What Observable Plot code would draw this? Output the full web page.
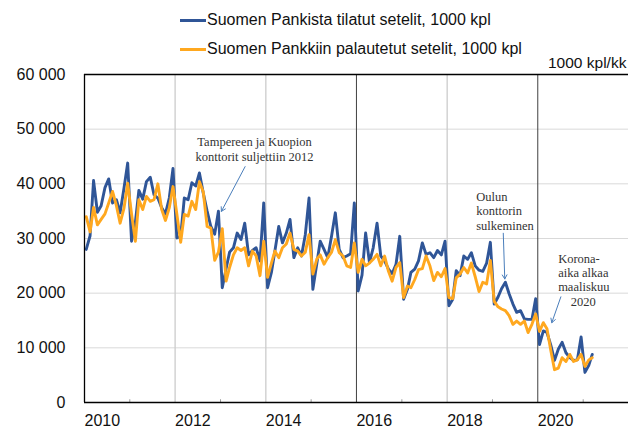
<!DOCTYPE html>
<html><head><meta charset="utf-8">
<script src="https://cdn.jsdelivr.net/npm/d3@7"></script>
<script src="https://cdn.jsdelivr.net/npm/@observablehq/plot@0.6"></script>
<style>
body{margin:0;background:#fff;}
#wrap{position:relative;width:628px;height:431px;overflow:hidden;font-family:"Liberation Sans",Arial,sans-serif;}
#legend{height:56px;position:relative;}
.item{position:absolute;left:180px;display:flex;align-items:center;font-size:16px;color:#111;white-space:nowrap;transform:translateY(-50%);}
.sw{width:26px;height:3px;margin-right:1px;}
#unit{position:absolute;left:548px;top:54px;font-size:15.5px;color:#111;white-space:nowrap;}
#err{position:absolute;left:90px;top:100px;color:red;font-size:11px;}
</style></head>
<body><div id="wrap"><div id="legend"></div><div id="unit"></div><div id="chart"></div><div id="err"></div></div>
<script>
const seriesNames = ["Suomen Pankista tilatut setelit, 1000 kpl", "Suomen Pankkiin palautetut setelit, 1000 kpl"];
const seriesColors = ["#2f5597", "#ffa81f"];
const unitLabel = "1000 kpl/kk";
const startYear = 2010;
// monthly values, Jan 2010 - Mar 2021
const tilatut = [
  28000, 30500, 40600, 34800, 36000, 39300, 40900, 36500, 37100, 34700, 39200, 43800,
  29500, 33000, 38800, 37200, 40400, 41200, 38000, 37400, 35600, 34500, 37400, 42800,
  30100, 30400, 37400, 37100, 40200, 39600, 42000, 38300, 35000, 32200, 30800, 35000,
  21000, 24500, 27500, 28300, 31000, 29800, 32800, 27000, 27800, 28300, 25900, 36500,
  21000, 23800, 27700, 32200, 29200, 31000, 33500, 26500, 28300, 26800, 30700, 37400,
  20700, 25300, 29500, 28000, 26500, 30500, 34700, 28000, 26500, 26800, 27200, 36500,
  20400, 23300, 31000, 25600, 28300, 32800, 26800, 25900, 24400, 23600, 25300, 30400,
  18900, 20700, 23800, 24400, 25900, 29200, 27100, 27400, 26500, 27800, 27000, 29500,
  17700, 18900, 24100, 23200, 26800, 26200, 27400, 25000, 24200, 24000, 25500, 29300,
  18000, 19300, 20800, 22000, 19900, 18000, 16500, 16800, 15300, 15200, 15200, 19000,
  10600, 13100, 12800, 10500, 7700, 9800, 11000, 9100, 8200, 7700, 7800, 12000,
  5500, 6800, 8800
];
const palautetut = [
  34000, 31200, 35700, 32500, 33500, 34500, 36500, 38600, 36000, 32800, 35500, 40100,
  34500, 29500, 37100, 35300, 37700, 36800, 37100, 40000, 35300, 33300, 35600, 39500,
  34500, 29300, 34400, 34100, 36800, 35300, 40400, 38500, 32200, 31900, 26000, 27500,
  31800, 22200, 24700, 27000, 28300, 27800, 28300, 25000, 27700, 26800, 23200, 29500,
  22900, 25500, 27700, 26500, 28300, 29000, 31000, 28000, 27700, 26800, 27500, 30700,
  23500, 26200, 27000, 25300, 26500, 27500, 29800, 27400, 26800, 25000, 24700, 29200,
  23800, 26200, 25000, 25500, 26200, 27100, 25000, 26800, 24000, 22200, 24700, 25600,
  19200, 21300, 21000, 22500, 24300, 24500, 26800, 25000, 22300, 23800, 23000, 24500,
  19200, 19000, 22800, 23500, 24700, 23700, 25500, 23000, 20300, 22000, 21700, 26000,
  18500, 17500, 17100, 16800, 15900, 14300, 14900, 14300, 14900, 12800, 14300, 16200,
  13000, 14600, 13500, 9500, 6000, 6300, 8200, 7500, 8800, 7500, 7800, 8800,
  6600, 7800, 8200
];
const yTicks = [0, 10000, 20000, 30000, 40000, 50000, 60000];
const xTickYears = [2010, 2012, 2014, 2016, 2018, 2020];
const gridYears = [2012, 2014, 2018];
const darkYears = [2016, 2020];
const minorYears = [2011, 2013, 2015, 2017, 2019, 2021];
const annotationLines = [
  {t: "2013-10-02", v: 47700, label: "Tampereen ja Kuopion", anchor: "middle"},
  {t: "2013-10-02", v: 44960, label: "konttorit suljettiin 2012", anchor: "middle"},
  {t: "2018-08-23", v: 37510, label: "Oulun", anchor: "start"},
  {t: "2018-08-23", v: 34960, label: "konttorin", anchor: "start"},
  {t: "2018-08-23", v: 32330, label: "sulkeminen", anchor: "start"},
  {t: "2020-06-13", v: 26240, label: "Korona-", anchor: "start"},
  {t: "2020-06-13", v: 23690, label: "aika alkaa", anchor: "start"},
  {t: "2020-06-13", v: 21050, label: "maaliskuu", anchor: "start"},
  {t: "2021-01-02", v: 18420, label: "2020", anchor: "middle"}
];
const arrows = [
  {t1: "2013-07-18", v1: 43150, t2: "2013-01-08", v2: 34960},
  {t1: "2019-03-29", v1: 30960, t2: "2019-04-10", v2: 22600},
  {t1: "2020-07-05", v1: 19330, t2: "2020-04-23", v2: 14600}
];

try {
const D = (y, m, day) => new Date(Date.UTC(y, m, day));
const yr = y => D(y, 0, 1);
const toRows = arr => arr.map((v, i) => ({date: D(startYear, i, 15), value: v}));
const blueRows = toRows(tilatut);
const orangeRows = toRows(palautetut);
const ann = annotationLines.map(a => ({date: new Date(a.t + "T00:00:00Z"), value: a.v, label: a.label, anchor: a.anchor}));
const arr = arrows.map(a => ({d1: new Date(a.t1 + "T00:00:00Z"), v1: a.v1, d2: new Date(a.t2 + "T00:00:00Z"), v2: a.v2}));
const fmt = v => d3.format(",")(v).replace(/,/g, " ");

const legend = document.getElementById("legend");
seriesNames.forEach((name, i) => {
  const it = document.createElement("div");
  it.className = "item";
  it.style.top = (i === 0 ? 20 : 49) + "px";
  const sw = document.createElement("span");
  sw.className = "sw"; sw.style.background = seriesColors[i];
  const tx = document.createElement("span"); tx.textContent = name;
  it.appendChild(sw); it.appendChild(tx);
  legend.appendChild(it);
});
document.getElementById("unit").textContent = unitLabel;

const serif = "Liberation Serif";
const annMid = ann.filter(a => a.anchor === "middle");
const annStart = ann.filter(a => a.anchor === "start");
const chart = Plot.plot({
  width: 628, height: 375,
  marginLeft: 84, marginRight: 0, marginTop: 18, marginBottom: 29,
  style: {fontFamily: "'Liberation Sans',Arial,sans-serif", fontSize: "16px", color: "#111", background: "#fff", overflow: "visible"},
  x: {type: "utc", domain: [yr(2010), yr(2022)]},
  y: {domain: [0, 60000]},
  marks: [
    Plot.ruleY(yTicks.filter(v => v > 0 && v < 60000), {stroke: "#d9d9d9", strokeWidth: 1}),
    Plot.ruleX(gridYears, {x: yr, stroke: "#cccccc", strokeWidth: 1.3}),
    Plot.ruleX(darkYears, {x: yr, stroke: "#404040", strokeWidth: 1}),
    Plot.ruleX(minorYears, {x: yr, y1: 0, y2: 500, stroke: "#999"}),
    Plot.line(blueRows, {x: "date", y: "value", stroke: seriesColors[0], strokeWidth: 2.9}),
    Plot.line(orangeRows, {x: "date", y: "value", stroke: seriesColors[1], strokeWidth: 2.9}),
    Plot.ruleY([60000], {stroke: "#000", strokeWidth: 1.3}),
    Plot.ruleY([0], {stroke: "#000", strokeWidth: 1.3}),
    Plot.ruleX([yr(2010)], {stroke: "#000", strokeWidth: 1.3}),
    Plot.arrow(arr, {x1: "d1", y1: "v1", x2: "d2", y2: "v2", stroke: "#4a7ebb", strokeWidth: 1, headLength: 7}),
    Plot.text(annMid, {x: "date", y: "value", text: "label", textAnchor: "middle", fontFamily: serif, fontSize: 12.5, fill: "#333"}),
    Plot.text(annStart, {x: "date", y: "value", text: "label", textAnchor: "start", fontFamily: serif, fontSize: 12.5, fill: "#333"}),
    Plot.axisY({ticks: yTicks, tickFormat: fmt, tickSize: 0, tickPadding: 19, fontSize: 16, label: null}),
    Plot.axisX({ticks: xTickYears.map(yr), tickFormat: d3.utcFormat("%Y"), tickSize: 0, tickPadding: 12, textAnchor: "start", fontSize: 16, label: null})
  ]
});
document.getElementById("chart").appendChild(chart);
} catch (e) { document.getElementById("err").textContent = String(e); }
</script>
</body></html>
